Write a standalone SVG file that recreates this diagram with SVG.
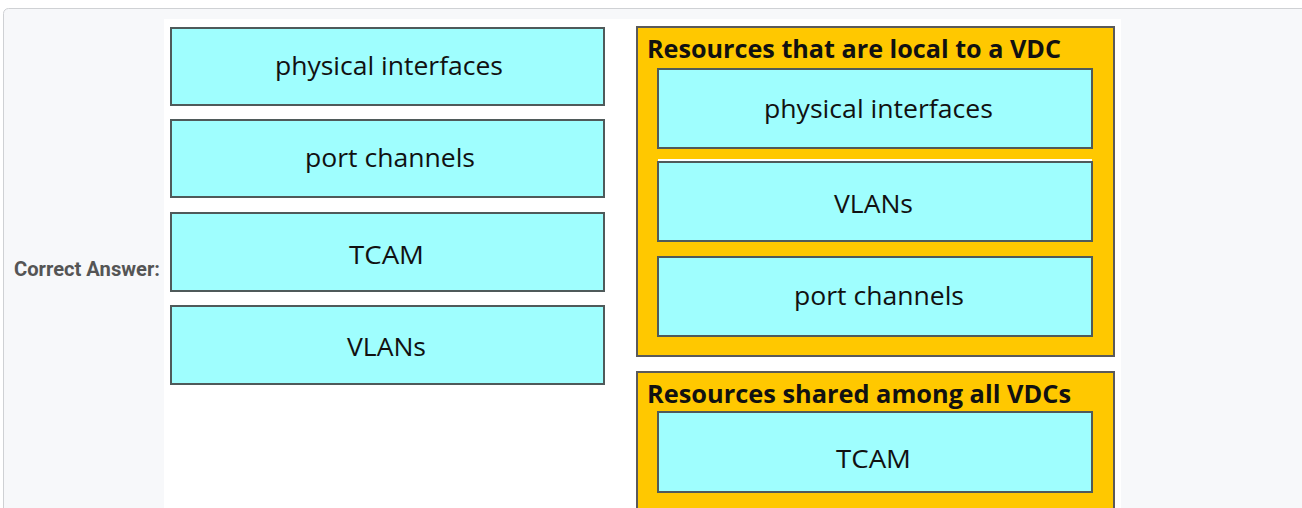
<svg xmlns="http://www.w3.org/2000/svg" width="1302" height="508" viewBox="0 0 1302 508">
<style>
.box{fill:#9ffefe;stroke:#4f5a5a;stroke-width:2}
.grp{fill:#ffc800;stroke:#5a5a5a;stroke-width:2}
.lbl{font-family:"Open Sans","Liberation Sans",sans-serif;font-size:26px;fill:#111;text-anchor:middle}
.ttl{font-family:"Open Sans","Liberation Sans",sans-serif;font-size:25px;font-weight:bold;fill:#111}
</style>
<rect x="0" y="0" width="1302" height="508" fill="#ffffff"/>
<rect x="3.5" y="8.5" width="1310" height="520" rx="5" fill="#f7f8fa" stroke="#cfd1d4" stroke-width="1"/>
<rect x="164" y="19" width="957" height="489" fill="#ffffff"/>
<text x="160" y="276" font-family="Roboto,'Liberation Sans',sans-serif" font-size="21" font-weight="bold" fill="#555" text-anchor="end" textLength="146" lengthAdjust="spacingAndGlyphs">Correct Answer:</text>
<g id="src-physical"><rect class="box" x="171" y="28" width="433" height="77"/><text class="lbl" x="389" y="75" textLength="228" lengthAdjust="spacingAndGlyphs">physical interfaces</text></g>
<g id="src-port"><rect class="box" x="171" y="120" width="433" height="77"/><text class="lbl" x="390" y="167" textLength="170" lengthAdjust="spacingAndGlyphs">port channels</text></g>
<g id="src-tcam"><rect class="box" x="171" y="213" width="433" height="78"/><text class="lbl" x="386.5" y="264" textLength="75" lengthAdjust="spacingAndGlyphs">TCAM</text></g>
<g id="src-vlans"><rect class="box" x="171" y="306" width="433" height="78"/><text class="lbl" x="386.5" y="356" textLength="79" lengthAdjust="spacingAndGlyphs">VLANs</text></g>
<g id="local">
<rect class="grp" x="637" y="27" width="477" height="329"/>
<text class="ttl" x="647" y="58" textLength="414" lengthAdjust="spacingAndGlyphs">Resources that are local to a VDC</text>
<g id="local-physical"><rect class="box" x="658" y="69" width="434" height="79"/><text class="lbl" x="878.5" y="118" textLength="229" lengthAdjust="spacingAndGlyphs">physical interfaces</text></g>
<rect x="658" y="159" width="434" height="3" fill="#ffffff"/>
<g id="local-vlans"><rect class="box" x="658" y="162" width="434" height="79"/><text class="lbl" x="873.5" y="213" textLength="79" lengthAdjust="spacingAndGlyphs">VLANs</text></g>
<g id="local-port"><rect class="box" x="658" y="257" width="434" height="79"/><text class="lbl" x="879" y="305" textLength="170" lengthAdjust="spacingAndGlyphs">port channels</text></g>
</g>
<g id="shared">
<rect class="grp" x="637" y="372" width="477" height="150"/>
<text class="ttl" x="647" y="403" textLength="424" lengthAdjust="spacingAndGlyphs">Resources shared among all VDCs</text>
<g id="shared-tcam"><rect class="box" x="658" y="412" width="434" height="80"/><text class="lbl" x="873.5" y="468" textLength="75" lengthAdjust="spacingAndGlyphs">TCAM</text></g>
</g>
<g id="connectors"/>
</svg>
